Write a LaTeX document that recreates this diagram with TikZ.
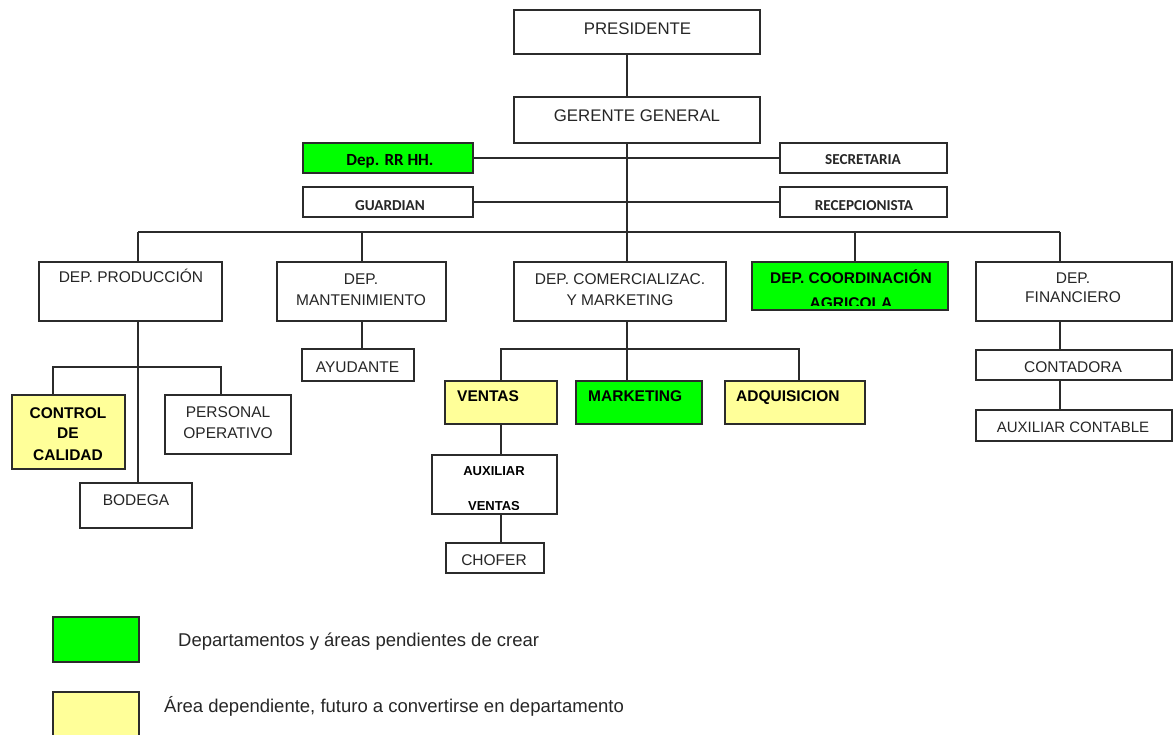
\documentclass[tikz,border=0pt]{standalone}
\usepackage{fontspec}
\setmainfont{Liberation Sans}
\newfontfamily\calfont{Carlito}
\newcommand\fs[1]{\fontsize{#1}{#1}\selectfont}
\definecolor{linec}{HTML}{2B2B2B}
\definecolor{txtc}{HTML}{262626}
\definecolor{grn}{HTML}{00FF00}
\definecolor{ylw}{HTML}{FFFF99}
\newcommand\bx[6]{\node[box,#6,minimum width={(#4-#2)*1pt},minimum height={(#5-#3)*1pt}] (#1) at ({(#2+#4)/2},{(#3+#5)/2}) {};}
\begin{document}
\begin{tikzpicture}[x=1pt,y=-1pt,
  box/.style={draw=linec,line width=1.4pt,fill=white,inner sep=0pt,outer sep=0pt},
  gbox/.style={fill=grn},
  ybox/.style={fill=ylw},
  conn/.style={draw=linec,line width=1.2pt},
  t/.style={inner sep=0pt,text=txtc,font=\fs{15.5},text height=11.1pt,text depth=0pt},
  tb/.style={t,text=black,font=\fs{15.5}\bfseries},
  tbig/.style={t,font=\fs{16.8},text height=12pt},
  tcal/.style={inner sep=0pt,text=txtc,font=\calfont\bfseries\fs{15.2},text height=9.8pt,text depth=0pt},
  tsmall/.style={t,text=black,font=\fs{13}\bfseries,text height=9.3pt},
  tleg/.style={inner sep=0pt,text=txtc,font=\fs{18.5},text height=13.2pt,text depth=0pt,anchor=west}]
\useasboundingbox (0,0) rectangle (1174,734);
\clip (0,0) rectangle (1174,734);
% boxes
\bx{pres}{514}{10}{760}{54}{}
\bx{ger}{514}{97}{760}{143}{}
\bx{rrhh}{303}{143}{473}{173}{gbox}
\bx{secr}{780}{143}{947}{173}{}
\bx{guard}{303}{187}{473}{217}{}
\bx{recep}{780}{187}{947}{217}{}
\bx{prod}{39}{262}{222}{321}{}
\bx{mant}{277}{262}{446}{321}{}
\bx{comm}{514}{262}{726}{321}{}
\bx{coord}{752}{262}{948}{310}{gbox}
\bx{fin}{976}{262}{1172}{321}{}
\bx{ayud}{302}{349}{414}{381}{}
\bx{ctrl}{12}{395}{125}{469}{ybox}
\bx{pers}{165}{395}{291}{454}{}
\bx{bod}{80}{483}{192}{528}{}
\bx{vent}{445}{381}{557}{424}{ybox}
\bx{mkt}{576}{381}{702}{424}{gbox}
\bx{adq}{725}{381}{865}{424}{ybox}
\bx{auxv}{432}{455}{557}{514}{}
\bx{chof}{446}{543}{544}{573}{}
\bx{cont}{976}{350}{1172}{380}{}
\bx{auxc}{976}{410}{1172}{441}{}
\bx{leg1}{53}{617}{139}{662}{gbox}
\bx{leg2}{53}{692}{139}{742}{ybox}
% coordinates for connectors
\coordinate (cx) at (627,232);
\coordinate (busL) at (138,232);
\coordinate (busR) at (1060,232);
\coordinate (xm) at (362,232);
\coordinate (xc) at (855,232);
\coordinate (b1) at (53,367);
\coordinate (b2) at (221,367);
\coordinate (c1) at (501,349);
\coordinate (c2) at (799,349);
\coordinate (cm) at (627,349);
% connectors
\draw[conn] (pres.south -| cx) -- (ger.north -| cx);
\draw[conn] (ger.south -| cx) -- (cx);
\draw[conn] (rrhh.east) -- (secr.west);
\draw[conn] (guard.east) -- (recep.west);
\draw[conn] (busL) -- (busR);
\draw[conn] (busL) -- (prod.north -| busL);
\draw[conn] (xm) -- (mant.north -| xm);
\draw[conn] (cx) -- (comm.north -| cx);
\draw[conn] (xc) -- (coord.north -| xc);
\draw[conn] (busR) -- (fin.north -| busR);
\draw[conn] (prod.south -| busL) -- (bod.north -| busL);
\draw[conn] (ctrl.north -| b1) -- (b1) -- (b2) -- (pers.north -| b2);
\draw[conn] (mant.south -| xm) -- (ayud.north -| xm);
\draw[conn] (comm.south -| cm) -- (cm);
\draw[conn] (vent.north -| c1) -- (c1) -- (c2) -- (adq.north -| c2);
\draw[conn] (cm) -- (mkt.north -| cm);
\draw[conn] (vent.south -| c1) -- (auxv.north -| c1);
\draw[conn] (auxv.south -| c1) -- (chof.north -| c1);
\draw[conn] (fin.south -| busR) -- (cont.north -| busR);
\draw[conn] (cont.south -| busR) -- (auxc.north -| busR);
% texts
\node[tbig] (t-pres) at (637.5,28) {PRESIDENTE};
\node[tbig] (t-ger) at (637,115) {GERENTE GENERAL};
\node[tcal,text=black,font=\calfont\bfseries\fs{17},text height=11pt] (t-rrhh) at (390,160) {Dep. RR HH.};
\node[tcal] (t-secr) at (863,160) {SECRETARIA};
\node[tcal] (t-guard) at (390,206) {GUARDIAN};
\node[tcal] (t-recep) at (864,206) {RECEPCIONISTA};
\node[t] (t-prod) at (131,277) {DEP. PRODUCCIÓN};
\node[t] (t-mant1) at (361,279) {DEP.};
\node[t] (t-mant2) at (361,300) {MANTENIMIENTO};
\node[t] (t-comm1) at (620,279) {DEP. COMERCIALIZAC.};
\node[t] (t-comm2) at (620,300) {Y MARKETING};
\node[tb] (t-coord1) at (851,278) {DEP. COORDINACIÓN};
\begin{scope}
\clip ([yshift=5pt]coord.south west) rectangle (coord.north east);
\node[tb] (t-coord2) at (851,303) {AGRICOLA};
\end{scope}
\node[t] (t-fin1) at (1073,278) {DEP.};
\node[t] (t-fin2) at (1073,297) {FINANCIERO};
\node[t] (t-ayud) at (357.5,367) {AYUDANTE};
\node[tb] (t-ctrl1) at (68,413) {CONTROL};
\node[tb] (t-ctrl2) at (68,433) {DE};
\node[tb] (t-ctrl3) at (68,455) {CALIDAD};
\node[t] (t-pers1) at (228,412) {PERSONAL};
\node[t] (t-pers2) at (228,433) {OPERATIVO};
\node[t] (t-bod) at (136,500) {BODEGA};
\node[tb,anchor=west] (t-vent) at (457,396) {VENTAS};
\node[tb,anchor=west] (t-mkt) at (588,396) {MARKETING};
\node[tb,anchor=west] (t-adq) at (736,396) {ADQUISICION};
\node[tsmall] (t-auxv1) at (494,471) {AUXILIAR};
\begin{scope}
\clip ([yshift=5pt]auxv.south west) rectangle (auxv.north east);
\node[tsmall] (t-auxv2) at (494,506) {VENTAS};
\end{scope}
\node[t] (t-chof) at (494,560) {CHOFER};
\node[t] (t-cont) at (1073,367) {CONTADORA};
\node[t,font=\fs{15}] (t-auxc) at (1073,427) {AUXILIAR CONTABLE};
\node[tleg] (t-leg1) at (178,640) {Departamentos y áreas pendientes de crear};
\node[tleg] (t-leg2) at (164,706) {Área dependiente, futuro a convertirse en departamento};
\end{tikzpicture}
\end{document}
